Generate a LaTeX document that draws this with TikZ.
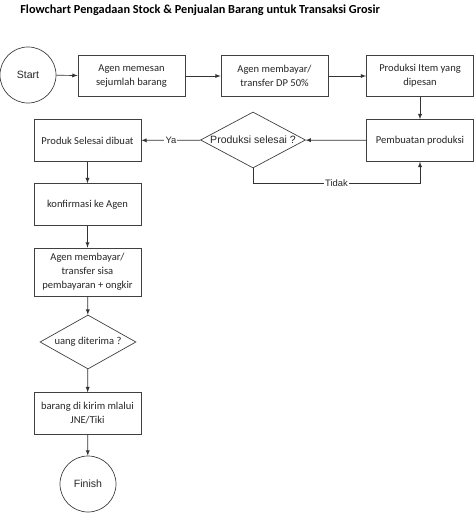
\documentclass[tikz,border=0pt]{standalone}
\usepackage{fontspec}
\setmainfont{Carlito}
\newfontfamily\arialfont{Liberation Sans}
\usetikzlibrary{shapes.geometric}

\begin{document}
\begin{tikzpicture}[x=0.03cm,y=-0.03cm,line width=0.6pt,
	box/.style={draw=black!75, fill=white, minimum width=3.21cm, minimum height=1.25cm, align=center, text=black!85, font=\fontsize{9}{12}\selectfont},
	term/.style={draw=black!75, circle, minimum size=1.68cm, text=black!85, font=\arialfont\fontsize{9}{11}\selectfont},
	decide/.style={draw=black!75, diamond, shape aspect=1.9, inner sep=0pt, text=black!85},
	flow/.style={-latex, black!80},
	tag/.style={fill=white, inner sep=1pt, text=black!85, font=\arialfont\fontsize{8}{10}\selectfont}]
	\useasboundingbox (0,0) rectangle (474,513);
	\node[anchor=west, inner sep=0pt, font=\bfseries\fontsize{10.5}{12}\selectfont] (title) at (20,10) {Flowchart Pengadaan Stock \& Penjualan Barang untuk Transaksi Grosir};

	\node[term] (start) at (28,75) {Start};
	\node[box] (pesan) at (131.5,76) {Agen memesan\\sejumlah barang};
	\node[box] (dp) at (274.5,76) {Agen membayar/\\transfer DP 50\%};
	\node[box] (item) at (420,76) {Produksi Item yang\\dipesan};
	\node[box] (buat) at (420,140.5) {Pembuatan produksi};
	\node[decide, minimum width=3.15cm, minimum height=1.68cm, font=\arialfont\fontsize{9}{11}\selectfont] (selesai) at (253,140) {Produksi selesai ?};
	\node[box] (produk) at (87.5,140.5) {Produk Selesai dibuat};
	\node[box] (konfirm) at (87.5,204.5) {konfirmasi ke Agen};
	\node[box, minimum height=1.44cm] (sisa) at (87.5,272) {Agen membayar/\\transfer sisa\\pembayaran + ongkir};
	\node[decide, minimum width=2.88cm, minimum height=1.62cm, font=\fontsize{9}{11}\selectfont] (uang) at (88,342) {uang diterima ?};
	\node[box] (kirim) at (87.5,413.5) {barang di kirim mlalui\\JNE/Tiki};
	\node[term] (finish) at (88,484) {Finish};

	\draw[flow] (start) -- (pesan);
	\draw[flow] (pesan) -- (dp);
	\draw[flow] (dp) -- (item);
	\draw[flow] (item) -- (buat);
	\draw[flow] (buat) -- (selesai);
	\draw[flow] (selesai) -- node[tag] {Ya} (produk);
	\draw[flow] (selesai.south) -- ++(0,15) -| node[tag, pos=0.25] {Tidak} (buat.south);
	\draw[flow] (produk) -- (konfirm);
	\draw[flow] (konfirm) -- (sisa);
	\draw[flow] (sisa) -- (uang);
	\draw[flow] (uang) -- (kirim);
	\draw[flow] (kirim) -- (finish);
\end{tikzpicture}
\end{document}
